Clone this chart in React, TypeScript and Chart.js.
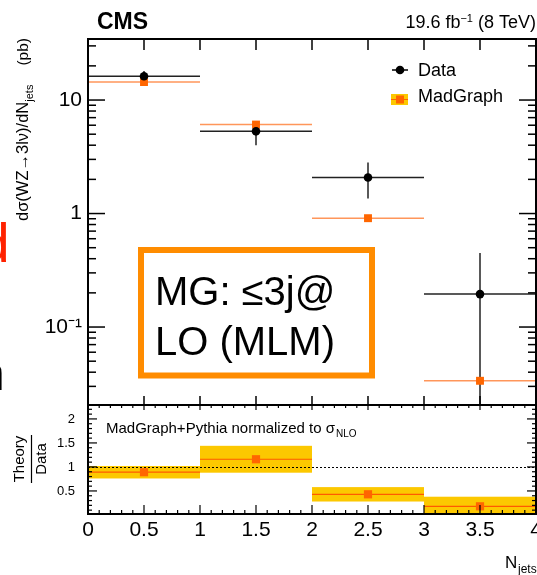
import React, { useEffect, useRef } from 'react';
import { Chart, registerables } from 'chart.js';

Chart.register(...registerables);

// ---------- data ----------
const binEdges = [0, 1, 2, 3, 4];
const binCenters = [0.5, 1.5, 2.5, 3.5];
const dataValues = [16.2, 5.3, 2.08, 0.195];
const dataErrUp = [1.8, 1.0, 0.73, 0.255];
const dataErrDown = [2.0, 1.3, 0.72, 0.195];
const mgValues = [14.4, 6.08, 0.91, 0.0336];
const ratioValues = [0.89, 1.16, 0.43, 0.18];
const ratioBandLow = [0.76, 0.88, 0.28, 0.0];
const ratioBandHigh = [1.02, 1.44, 0.58, 0.38];

const xTicks = [0, 0.5, 1, 1.5, 2, 2.5, 3, 3.5, 4];
const xTickLabels = ['0', '0.5', '1', '1.5', '2', '2.5', '3', '3.5', '4'];
const mainYTicks = [0.1, 1, 10];
const mainYTickLabels = ['10\u207B\u00B9', '1', '10'];
const ratioYTicks = [0.5, 1, 1.5, 2];
const ratioYTickLabels = ['0.5', '1', '1.5', '2'];

const MAIN_Y_MIN = 0.02056;
const MAIN_Y_MAX = 34.5;
const RATIO_Y_MIN = 0.02;
const RATIO_Y_MAX = 2.29;

const FONT = '"Liberation Sans", Arial, Helvetica, sans-serif';
const MG_ORANGE = '#ff6600';
const MG_LINE = 'rgb(255,150,90)';
const BAND_YELLOW = '#fcc800';
const BOX_ORANGE = '#ff8c00';

function seg(ctx: CanvasRenderingContext2D, x1: number, y1: number, x2: number, y2: number) {
  ctx.beginPath();
  ctx.moveTo(x1, y1);
  ctx.lineTo(x2, y2);
  ctx.stroke();
}

const mainPlugin = {
  id: 'mainDecor',
  beforeDatasetsDraw(chart: any) {
    const { ctx, chartArea: a } = chart;
    const x = chart.scales.x;
    const y = chart.scales.y;
    ctx.save();
    ctx.beginPath();
    ctx.rect(a.left, a.top, a.right - a.left, a.bottom - a.top);
    ctx.clip();
    ctx.lineWidth = 1.5;
    ctx.strokeStyle = MG_LINE;
    mgValues.forEach((v, i) => {
      const py = y.getPixelForValue(v);
      seg(ctx, x.getPixelForValue(binEdges[i]), py, x.getPixelForValue(binEdges[i + 1]), py);
    });
    ctx.strokeStyle = '#222';
    dataValues.forEach((v, i) => {
      const py = y.getPixelForValue(v);
      seg(ctx, x.getPixelForValue(binEdges[i]), py, x.getPixelForValue(binEdges[i + 1]), py);
      const px = x.getPixelForValue(binCenters[i]);
      const lo = v - dataErrDown[i];
      const pyLo = lo > MAIN_Y_MIN ? y.getPixelForValue(lo) : a.bottom + 5;
      const pyHi = y.getPixelForValue(v + dataErrUp[i]);
      seg(ctx, px, pyHi, px, pyLo);
    });
    ctx.restore();
  },
  afterDraw(chart: any) {
    const { ctx, chartArea: a } = chart;
    const x = chart.scales.x;
    const y = chart.scales.y;
    ctx.save();
    ctx.strokeStyle = '#000';
    ctx.fillStyle = '#000';
    // frame
    ctx.lineWidth = 2;
    ctx.strokeRect(a.left, a.top, a.right - a.left, a.bottom - a.top);
    ctx.lineWidth = 1.5;
    // x ticks
    xTicks.forEach((v) => {
      const px = x.getPixelForValue(v);
      seg(ctx, px, a.top, px, a.top + 11);
      seg(ctx, px, a.bottom, px, a.bottom - 9);
    });
    // y ticks (log)
    for (let d = -2; d <= 1; d++) {
      for (let m = 1; m <= 9; m++) {
        const v = m * Math.pow(10, d);
        if (v < MAIN_Y_MIN || v > MAIN_Y_MAX) continue;
        const py = y.getPixelForValue(v);
        const len = m === 1 ? 17 : 8;
        seg(ctx, a.left, py, a.left + len, py);
        seg(ctx, a.right, py, a.right - len, py);
      }
    }
    // CMS
    ctx.textBaseline = 'alphabetic';
    ctx.textAlign = 'left';
    ctx.font = `bold 23px ${FONT}`;
    ctx.fillText('CMS', 97, 29);
    // lumi
    ctx.font = `18px ${FONT}`;
    const p1 = '19.6 fb';
    const p3 = ' (8 TeV)';
    const w1 = ctx.measureText(p1).width;
    const w3 = ctx.measureText(p3).width;
    ctx.font = `11px ${FONT}`;
    const p2 = '\u22121';
    const w2 = ctx.measureText(p2).width;
    let lx = 536 - (w1 + w2 + w3);
    ctx.font = `18px ${FONT}`;
    ctx.fillText(p1, lx, 28);
    lx += w1;
    ctx.font = `11px ${FONT}`;
    ctx.fillText(p2, lx, 22);
    lx += w2;
    ctx.font = `18px ${FONT}`;
    ctx.fillText(p3, lx, 28);

    // y title
    ctx.save();
    ctx.translate(28, 221);
    ctx.rotate(-Math.PI / 2);
    ctx.font = `16.5px ${FONT}`;
    const t1 = 'd\u03C3(WZ\u21923l\u03BD)/dN';
    ctx.fillText(t1, 0, 0);
    const tw1 = ctx.measureText(t1).width;
    ctx.font = `11px ${FONT}`;
    ctx.fillText('jets', tw1, 5);
    ctx.font = `15.5px ${FONT}`;
    ctx.textAlign = 'right';
    ctx.fillText('(pb)', 183, 0);
    ctx.restore();

    // legend
    ctx.lineWidth = 1.5;
    seg(ctx, 392, 70, 408, 70);
    ctx.beginPath();
    ctx.arc(400, 70, 4.3, 0, Math.PI * 2);
    ctx.fill();
    ctx.font = `18px ${FONT}`;
    ctx.fillText('Data', 418, 75.5);
    ctx.fillStyle = BAND_YELLOW;
    ctx.fillRect(391, 94, 17, 11);
    ctx.strokeStyle = MG_ORANGE;
    ctx.lineWidth = 1;
    seg(ctx, 391, 99.5, 408, 99.5);
    ctx.fillStyle = MG_ORANGE;
    ctx.fillRect(396, 95.5, 8, 8);
    ctx.fillStyle = '#000';
    ctx.fillText('MadGraph', 418, 102);

    // annotation box
    ctx.strokeStyle = BOX_ORANGE;
    ctx.lineWidth = 6;
    ctx.strokeRect(141, 250, 231, 125.5);
    ctx.fillStyle = '#000';
    ctx.font = `40px ${FONT}`;
    ctx.fillText('MG: \u22643j@', 155, 305);
    ctx.fillText('LO (MLM)', 155, 355);

    // clipped fragments at left edge
    ctx.font = `55px ${FONT}`;
    ctx.fillStyle = '#ff2200';
    const md = ctx.measureText('d');
    ctx.fillText('d', 7 - md.actualBoundingBoxRight, 262);
    ctx.font = `48px ${FONT}`;
    ctx.fillStyle = '#000';
    const mn = ctx.measureText('n');
    ctx.fillText('n', 2 - mn.actualBoundingBoxRight, 390);
    ctx.restore();
  },
};

const ratioPlugin = {
  id: 'ratioDecor',
  beforeDatasetsDraw(chart: any) {
    const { ctx, chartArea: a } = chart;
    const x = chart.scales.x;
    const y = chart.scales.y;
    ctx.save();
    ctx.beginPath();
    ctx.rect(a.left, a.top, a.right - a.left, a.bottom - a.top);
    ctx.clip();
    ctx.fillStyle = BAND_YELLOW;
    ratioBandLow.forEach((lo, i) => {
      const x1 = x.getPixelForValue(binEdges[i]);
      const x2 = x.getPixelForValue(binEdges[i + 1]);
      const y1 = y.getPixelForValue(ratioBandHigh[i]);
      const y2 = y.getPixelForValue(lo);
      ctx.fillRect(x1, y1, x2 - x1, y2 - y1);
    });
    ctx.strokeStyle = '#ff5a00';
    ctx.lineWidth = 1.2;
    ratioValues.forEach((v, i) => {
      const py = y.getPixelForValue(v);
      seg(ctx, x.getPixelForValue(binEdges[i]), py, x.getPixelForValue(binEdges[i + 1]), py);
    });
    ctx.strokeStyle = '#000';
    ctx.lineWidth = 1;
    ctx.setLineDash([2, 2]);
    const p1 = Math.round(y.getPixelForValue(1)) + 0.5;
    seg(ctx, a.left, p1, a.right, p1);
    ctx.setLineDash([]);
    ctx.restore();
  },
  afterDraw(chart: any) {
    const { ctx, chartArea: a } = chart;
    const x = chart.scales.x;
    const y = chart.scales.y;
    ctx.save();
    ctx.strokeStyle = '#000';
    ctx.fillStyle = '#000';
    ctx.lineWidth = 2;
    ctx.strokeRect(a.left, a.top, a.right - a.left, a.bottom - a.top);
    ctx.lineWidth = 1.2;
    for (let k = 0; k <= 40; k++) {
      const v = k / 10;
      const px = x.getPixelForValue(v);
      const major = k % 5 === 0;
      seg(ctx, px, a.bottom, px, a.bottom - (major ? 9 : 4));
      seg(ctx, px, a.top, px, a.top + (major ? 5 : 3));
    }
    for (let k = 1; k <= 22; k++) {
      const v = k / 10;
      const py = y.getPixelForValue(v);
      const major = k % 5 === 0;
      const len = major ? 9 : 4;
      seg(ctx, a.left, py, a.left + len, py);
      seg(ctx, a.right, py, a.right - len, py);
    }
    // ratio y title
    ctx.save();
    ctx.translate(0, 59);
    ctx.rotate(-Math.PI / 2);
    ctx.font = `15px ${FONT}`;
    ctx.textAlign = 'center';
    ctx.fillText('Theory', 0, 24);
    ctx.fillText('Data', 0, 46);
    ctx.lineWidth = 1.2;
    seg(ctx, -24, 31.5, 24, 31.5);
    ctx.restore();
    // annotation text
    ctx.textAlign = 'left';
    ctx.font = `15px ${FONT}`;
    const txt = 'MadGraph+Pythia normalized to \u03C3';
    ctx.fillText(txt, 106, 33);
    const tw = ctx.measureText(txt).width;
    ctx.font = `10px ${FONT}`;
    ctx.fillText('NLO', 106 + tw + 1, 37);
    // x title
    ctx.font = `17px ${FONT}`;
    ctx.fillText('N', 505, 168);
    ctx.font = `12px ${FONT}`;
    ctx.fillText('jets', 518, 173);
    ctx.restore();
  },
};

export default function App() {
  const mainRef = useRef<HTMLCanvasElement>(null);
  const ratioRef = useRef<HTMLCanvasElement>(null);

  useEffect(() => {
    if (!mainRef.current || !ratioRef.current) return;
    const main = new Chart(mainRef.current, {
      type: 'scatter',
      data: {
        datasets: [
          {
            label: 'Data',
            data: binCenters.map((c, i) => ({ x: c, y: dataValues[i] })),
            pointStyle: 'circle',
            pointRadius: 4.3,
            backgroundColor: '#000',
            borderWidth: 0,
          },
          {
            label: 'MadGraph',
            data: binCenters.map((c, i) => ({ x: c, y: mgValues[i] })),
            pointStyle: 'rect',
            pointRadius: 5.6,
            backgroundColor: MG_ORANGE,
            borderWidth: 0,
          },
        ],
      },
      options: {
        responsive: false,
        animation: false,
        devicePixelRatio: 1,
        events: [],
        layout: { autoPadding: false, padding: { top: 39, right: 1, bottom: 1, left: 0 } },
        plugins: { legend: { display: false }, tooltip: { enabled: false } },
        scales: {
          x: { type: 'linear', min: 0, max: 4, display: false },
          y: {
            type: 'logarithmic',
            min: MAIN_Y_MIN,
            max: MAIN_Y_MAX,
            position: 'left',
            grid: { display: false, drawTicks: false },
            border: { display: false },
            afterBuildTicks: (s: any) => {
              s.ticks = mainYTicks.map((v) => ({ value: v }));
            },
            ticks: {
              padding: 6,
              color: '#000',
              font: { family: FONT, size: 21 },
              callback: (_v: any, i: number) => mainYTickLabels[i],
            },
            afterFit: (s: any) => {
              s.width = 88;
              s.paddingTop = 0;
              s.paddingBottom = 0;
            },
          },
        },
      } as any,
      plugins: [mainPlugin],
    });

    const ratio = new Chart(ratioRef.current, {
      type: 'scatter',
      data: {
        datasets: [
          {
            label: 'Theory/Data',
            data: binCenters.map((c, i) => ({ x: c, y: ratioValues[i] })),
            pointStyle: 'rect',
            pointRadius: 5.8,
            backgroundColor: MG_ORANGE,
            borderWidth: 0,
          },
        ],
      },
      options: {
        responsive: false,
        animation: false,
        devicePixelRatio: 1,
        events: [],
        layout: { autoPadding: false, padding: { top: 5, right: 1, bottom: 0, left: 0 } },
        plugins: { legend: { display: false }, tooltip: { enabled: false } },
        scales: {
          x: {
            type: 'linear',
            min: 0,
            max: 4,
            position: 'bottom',
            grid: { display: false, drawTicks: false },
            border: { display: false },
            afterBuildTicks: (s: any) => {
              s.ticks = xTicks.map((v) => ({ value: v }));
            },
            ticks: {
              autoSkip: false,
              maxRotation: 0,
              minRotation: 0,
              padding: 4,
              color: '#000',
              font: { family: FONT, size: 21 },
              callback: (_v: any, i: number) => xTickLabels[i],
            },
            afterFit: (s: any) => {
              s.height = 61;
              s.paddingLeft = 0;
              s.paddingRight = 0;
            },
          },
          y: {
            type: 'linear',
            min: RATIO_Y_MIN,
            max: RATIO_Y_MAX,
            position: 'left',
            grid: { display: false, drawTicks: false },
            border: { display: false },
            afterBuildTicks: (s: any) => {
              s.ticks = ratioYTicks.map((v) => ({ value: v }));
            },
            ticks: {
              padding: 13,
              color: '#000',
              font: { family: FONT, size: 13 },
              callback: (_v: any, i: number) => ratioYTickLabels[i],
            },
            afterFit: (s: any) => {
              s.width = 88;
              s.paddingTop = 0;
              s.paddingBottom = 0;
            },
          },
        },
      } as any,
      plugins: [ratioPlugin],
    });

    return () => {
      main.destroy();
      ratio.destroy();
    };
  }, []);

  return (
    <div
      style={{
        position: 'fixed',
        left: 0,
        top: 0,
        width: 537,
        height: 575,
        background: '#fff',
        overflow: 'hidden',
      }}
    >
      <canvas
        ref={mainRef}
        width={537}
        height={406}
        style={{ position: 'absolute', left: 0, top: 0, width: 537, height: 406 }}
      />
      <canvas
        ref={ratioRef}
        width={537}
        height={175}
        style={{ position: 'absolute', left: 0, top: 400, width: 537, height: 175 }}
      />
    </div>
  );
}
